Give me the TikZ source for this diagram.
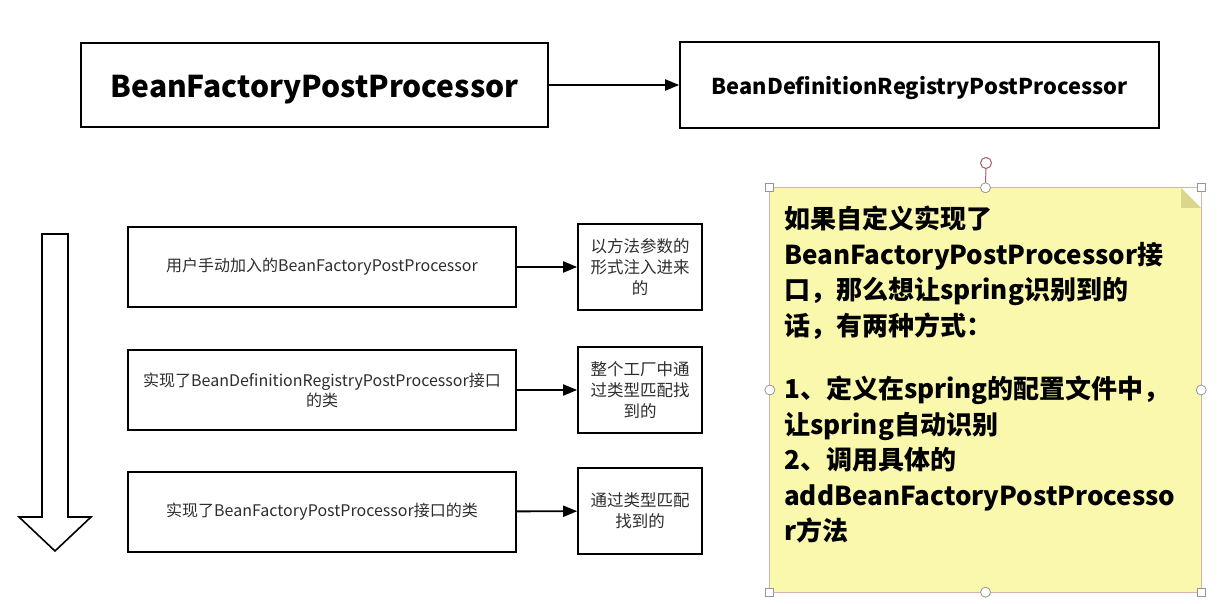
\documentclass[tikz,border=0pt]{standalone}
\usepackage{fontspec}
\setmainfont{Noto Sans CJK SC}
\usetikzlibrary{arrows.meta}
\definecolor{noteyellow}{RGB}{250,248,172}
\definecolor{notefold}{RGB}{218,214,140}
\definecolor{selborder}{RGB}{214,180,170}
\definecolor{handlecol}{RGB}{150,150,150}
\definecolor{rotcol}{RGB}{170,90,100}
\definecolor{txtgray}{RGB}{45,45,45}
\tikzset{
  bigbox/.style={draw=black, line width=1.6pt, minimum width=467pt, minimum height=84pt, inner sep=0pt},
  rowbox/.style={draw=black, line width=1.6pt, minimum width=388pt, minimum height=80pt, inner sep=0pt, align=center,
    text=txtgray, font=\fontsize{16}{20}\selectfont},
  smallbox/.style={draw=black, line width=1.6pt, minimum width=124pt, minimum height=86pt, inner sep=0pt, align=center,
    text=txtgray, font=\fontsize{16.5}{21}\selectfont},
  conn/.style={line width=1.8pt, -{Triangle[length=14pt,width=11pt]}},
  sqhandle/.style={draw=handlecol, fill=white, line width=0.8pt, minimum size=8pt, inner sep=0pt},
  cihandle/.style={circle, draw=handlecol, fill=white, line width=0.8pt, minimum size=10pt, inner sep=0pt},
}
\begin{document}
\begin{tikzpicture}[x=1pt,y=-1pt]
\useasboundingbox (0,0) rectangle (1223,604);
% top boxes
\node[bigbox] (bfpp) at (314.5,85) {\raisebox{-5pt}[\height][\depth]{\fontsize{30}{34}\selectfont\bfseries BeanFactoryPostProcessor}};
\node[bigbox, minimum width=479pt, minimum height=86pt] (bdrpp) at (919.5,85) {\raisebox{-3pt}[\height][\depth]{\fontsize{21.8}{24}\selectfont\bfseries BeanDefinitionRegistryPostProcessor}};
\draw[conn] (bfpp) -- (bdrpp);
% hollow down arrow
\draw[line width=1.6pt, line join=miter] (42,234) -- (68,234) -- (68,517) -- (91,517) -- (55,551) -- (19,517) -- (42,517) -- cycle;
% rows
\node[rowbox] (r1) at (322,267) {用户手动加入的BeanFactoryPostProcessor};
\node[smallbox] (s1) at (640,267) {以方法参数的\\形式注入进来\\的};
\node[rowbox] (r2) at (322,390) {实现了BeanDefinitionRegistryPostProcessor接口\\的类};
\node[smallbox] (s2) at (640,390) {整个工厂中通\\过类型匹配找\\到的};
\node[rowbox] (r3) at (322,512) {实现了BeanFactoryPostProcessor接口的类};
\node[smallbox] (s3) at (640,511) {通过类型匹配\\找到的};
\draw[conn] (r1) -- (s1);
\draw[conn] (r2) -- (s2);
\draw[conn] (r3) -- (s3);
% note
\node[minimum width=431pt, minimum height=404pt, inner sep=0pt] (note) at (985.5,390) {};
\fill[noteyellow] (770,188) -- (1181,188) -- (1201,208) -- (1201,592) -- (770,592) -- cycle;
\fill[notefold] (1181,188) -- (1201,208) -- (1181,208) -- cycle;
\draw[selborder, line width=0.8pt] (note.north west) rectangle (note.south east);
\node[anchor=north west, inner sep=0pt, align=left, text=black,
  font=\fontsize{26}{35.5}\selectfont\bfseries] (notetext) at (784,206)
 {如果自定义实现了\\BeanFactoryPostProcessor接\\口，那么想让spring识别到的\\话，有两种方式：\\[28pt]1、定义在spring的配置文件中，\\让spring自动识别\\2、调用具体的\\addBeanFactoryPostProcesso\\r方法};
% selection handles
\coordinate (rot) at (986,163);
\draw[rotcol, line width=1pt] (note.north) -- (rot);
\node[circle, draw=rotcol, fill=white, line width=1pt, minimum size=11pt, inner sep=0pt] (roth) at (rot) {};
\foreach \a in {north west,north east,south west,south east}
  \node[sqhandle] at (note.\a) {};
\foreach \a in {north,south,west,east}
  \node[cihandle] at (note.\a) {};
\end{tikzpicture}
\end{document}
